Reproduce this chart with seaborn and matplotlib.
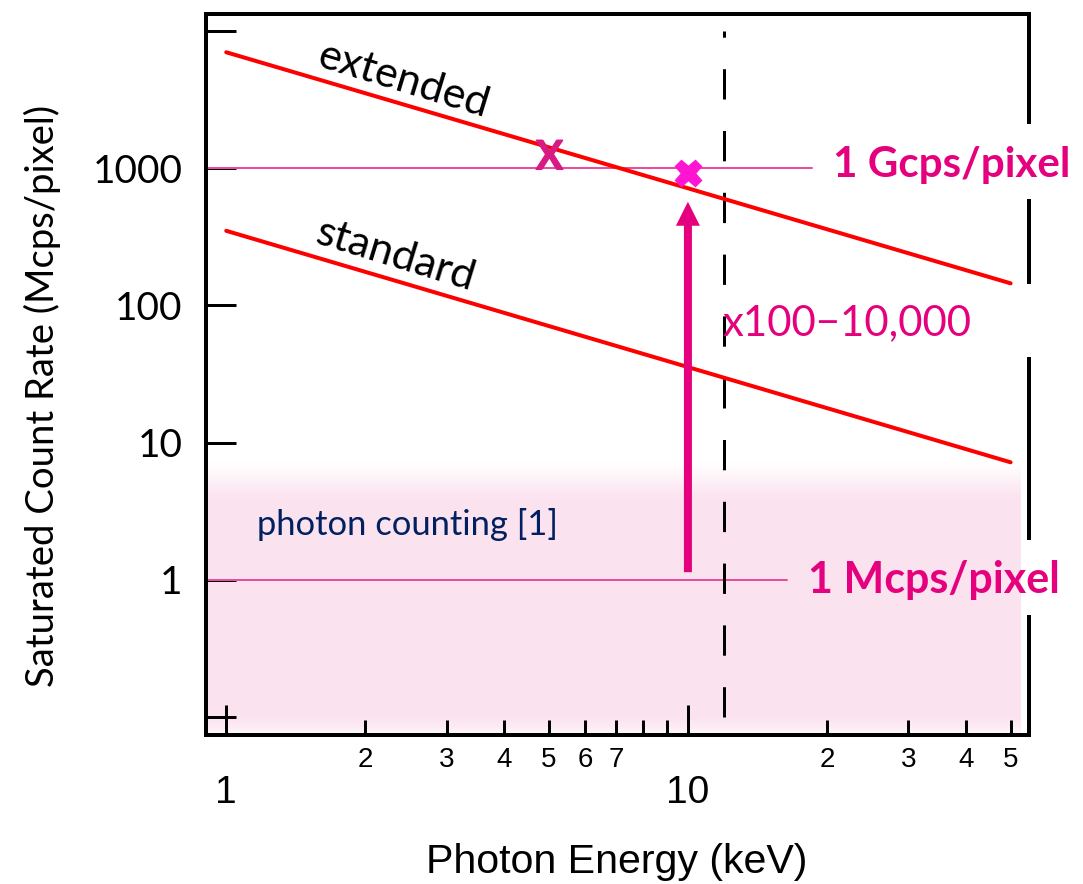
import matplotlib
matplotlib.use("Agg")
import numpy as np
import pandas as pd
import matplotlib.pyplot as plt
from matplotlib.colors import to_rgb
from matplotlib.ticker import NullLocator
from matplotlib.textpath import TextPath
from matplotlib.font_manager import FontProperties
from matplotlib.path import Path
import seaborn as sns

# Saturated count rate (Mcps/pixel) versus photon energy (keV)
energy_kev = [1, 50]
extended_rate = [7000, 145]
standard_rate = [350, 7.2]

# Reported operating points
point_energy = [5, 10]
point_rate = [1250, 930]

# Reference levels (Mcps/pixel) and the energies where their guide lines stop
gcps_rate = 1000
gcps_line_end = 18.6
mcps_rate = 1
mcps_line_end = 16.4

# Dashed marker energy and the improvement arrow
edge_energy = 12
edge_span = [0.1, 10000]
arrow_energy = 10
arrow_span = [1.14, 570]

# Photon-counting band
counting_top = 7.8
counting_right = 52.7

x_major_ticks = [1, 10]
x_major_labels = ["1", "10"]
x_minor_ticks = [2, 3, 4, 5, 6, 7, 8, 9, 20, 30, 40, 50]
x_minor_labels = ["2", "3", "4", "5", "6", "7", "", "", "2", "3", "4", "5"]
y_ticks = [0.1, 1, 10, 100, 1000, 10000]
y_tick_labels = ["", "1", "10", "100", "1000", ""]

x_limits = (0.904, 54.8)
y_limits = (0.0742, 13300)

sns.set_theme(style="ticks")
plt.rcParams["font.family"] = ["Lato", "DejaVu Sans"]
plt.rcParams["axes.unicode_minus"] = True
plt.rcParams["text.color"] = "black"
plt.rcParams["axes.labelcolor"] = "black"

PX = 0.72  # points per pixel at 100 dpi
MAGENTA = "#e5007d"
ARIAL = ["Liberation Sans", "DejaVu Sans"]

fig = plt.figure(figsize=(10.83, 8.84), dpi=100)
ax = fig.add_axes([206 / 1083, 1 - 735 / 884, 823 / 1083, 721 / 884])
ax.set_xscale("log")
ax.set_yscale("log")
ax.set_xlim(*x_limits)
ax.set_ylim(*y_limits)

# Photon-counting band: soft pink, fading out smoothly at the top edge
pink = np.array(to_rgb("#fbe2ef"))
edges = np.logspace(np.log10(y_limits[0]), np.log10(counting_top), 301)
log_mid = np.log10(np.sqrt(edges[:-1] * edges[1:]))
lin = np.interp(log_mid,
                [np.log10(y_limits[0]), -0.98, 0.56, np.log10(counting_top)],
                [0.35, 1.0, 1.0, 0.0])
strength = lin * lin * (3 - 2 * lin)
for lo, hi, s in zip(edges[:-1], edges[1:], strength):
    shade = 1 - s * (1 - pink)
    ax.fill_between([x_limits[0], counting_right], lo, hi * 1.003,
                    color=shade, lw=0, zorder=0)

# Reference level guide lines
ax.plot([x_limits[0], gcps_line_end], [gcps_rate, gcps_rate],
        color="#ea4c9f", lw=2 * PX, zorder=1)
ax.plot([x_limits[0], mcps_line_end], [mcps_rate, mcps_rate],
        color="#ea4c9f", lw=2 * PX, zorder=1)

# Saturation limits for the two modes
rates = pd.DataFrame({
    "energy": energy_kev * 2,
    "rate": extended_rate + standard_rate,
    "mode": ["extended"] * 2 + ["standard"] * 2,
})
sns.lineplot(data=rates, x="energy", y="rate", hue="mode",
             palette={"extended": "#ff0000", "standard": "#ff0000"},
             lw=4 * PX, legend=False, errorbar=None, ax=ax, zorder=3)

# Dashed energy marker
ax.plot([edge_energy, edge_energy], edge_span, color="black", lw=3 * PX,
        dashes=(10.1, 10.5), zorder=2)

# Improvement arrow
ax.annotate("", xy=(arrow_energy, arrow_span[1]),
            xytext=(arrow_energy, arrow_span[0]),
            arrowprops=dict(width=8 * PX, headwidth=24 * PX, headlength=24 * PX,
                            color=MAGENTA, shrink=0, lw=0),
            zorder=3)

# Operating points: a bold letter X and a filled cross
glyph = TextPath((0, 0), "X", prop=FontProperties(family="Lato", weight="bold"))
verts = glyph.vertices - glyph.vertices.mean(axis=0)
letter_x = Path(verts, glyph.codes)
ax.plot(point_energy[0], point_rate[0], marker=letter_x, ms=22,
        color="#d81a84", ls="none", zorder=4)
ax.plot(point_energy[1], point_rate[1], marker="X", ms=19,
        color="#ff14d2", mec="#ff14d2", ls="none", zorder=4)

# Frame
for side in ["left", "bottom", "top"]:
    ax.spines[side].set_linewidth(4 * PX)
    ax.spines[side].set_color("black")
ax.spines["right"].set_visible(False)
for y0, y1 in [(0.0, 0.164), (0.273, 0.521), (0.628, 0.741), (0.850, 1.0)]:
    ax.plot([1, 1], [y0, y1], transform=ax.transAxes, color="black",
            lw=4 * PX, clip_on=False, solid_capstyle="projecting", zorder=5)

# Ticks
ax.set_xticks(x_major_ticks, x_major_labels)
ax.set_xticks(x_minor_ticks, x_minor_labels, minor=True)
ax.set_yticks(y_ticks, y_tick_labels)
ax.yaxis.set_minor_locator(NullLocator())
ax.tick_params(which="both", direction="in", color="black", labelcolor="black",
               bottom=True, left=True, top=False, right=False)
ax.tick_params(axis="x", which="major", length=30 * PX, width=3 * PX, pad=29,
               labelsize=28)
ax.tick_params(axis="x", which="minor", length=15 * PX, width=3 * PX, pad=8.6,
               labelsize=20)
ax.tick_params(axis="y", which="major", length=30 * PX, width=3 * PX, pad=17,
               labelsize=28)
for lbl in ax.get_xticklabels(which="both"):
    lbl.set_fontfamily(ARIAL)

# Axis labels
ax.set_xlabel("Photon Energy (keV)", fontsize=29.6, family=ARIAL, va="center",
              color="black")
ax.xaxis.set_label_coords(0.4994, -0.176)
ax.set_ylabel("Saturated Count Rate (Mcps/pixel)", fontsize=27.5, va="center",
              color="black")
ax.yaxis.set_label_coords(-0.199, 0.47)

# Annotations
ax.text(2.42, 4400, "extended", fontsize=31, rotation=-17, rotation_mode="anchor",
        ha="center", va="center", color="black", zorder=6)
ax.text(2.33, 233, "standard", fontsize=31, rotation=-17, rotation_mode="anchor",
        ha="center", va="center", color="black", zorder=6)
ax.text(20.6, 1057, "1 Gcps/pixel", fontsize=30.3, fontweight="bold",
        ha="left", va="center", color=MAGENTA, zorder=6, clip_on=False)
ax.text(18.2, 1.0, "1 Mcps/pixel", fontsize=31, fontweight="bold",
        ha="left", va="center", color=MAGENTA, zorder=6, clip_on=False)
ax.text(11.87, 74.5, "x100\u221210,000", fontsize=30.2,
        ha="left", va="center", color=MAGENTA, zorder=6)
ax.text(1.167, 2.52, "photon counting [1]", fontsize=24.8,
        ha="left", va="center", color="#002060", zorder=6)

fig.savefig("out.png", dpi=100)
